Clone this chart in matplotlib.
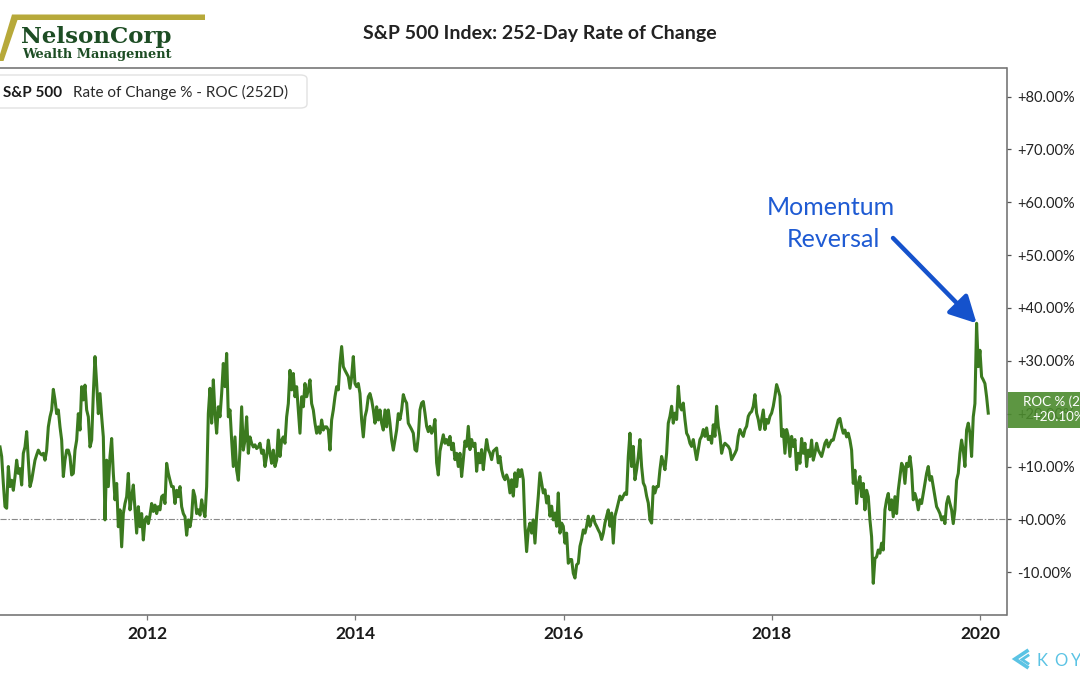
import numpy as np
import pandas as pd
import matplotlib
matplotlib.use('Agg')
import matplotlib.pyplot as plt
from matplotlib.patches import FancyBboxPatch, Rectangle, Polygon
from matplotlib.lines import Line2D

plt.rcParams['font.family'] = ['Lato', 'DejaVu Sans']

# ---------------- data (252-day rate of change, %) ----------------
roc_2010_2012 = [13.7, 11.9, 6.8, 2.4, 2.1, 10.0, 6.2, 7.4, 5.5, 8.1,
                 11.2, 8.7, 9.6, 6.5, 12.5, 13.7, 16.6, 11.2, 6.2, 7.4,
                 9.3, 11.2, 12.2, 13.1, 12.5, 12.2, 12.5, 11.2, 13.1, 17.5,
                 19.4, 20.7, 24.6, 22.6, 20.0, 20.7, 17.5, 15.0, 8.1, 11.2,
                 13.1, 13.1, 11.9, 8.4, 8.7, 13.1, 15.0, 20.0, 16.9, 25.1,
                 22.6, 25.4, 20.7, 19.4, 13.7, 15.0, 23.8, 30.8, 25.7, 20.0,
                 23.8, 19.4, 15.6, -0.1, 11.2, 6.2, 11.9, 15.3, 8.7, 3.7,
                 6.8, -1.4, 1.8, -5.2, 1.1, 3.0, 4.3, 8.7, 1.8, 4.3,
                 6.5, 1.8, -2.6, 2.4, -1.4, 1.1, -3.9, -0.1, 0.5, -0.8,
                 0.8, 3.0, 1.5, 2.7, 1.1, 2.4, 1.8, 4.3, 4.6, 3.0,
                 10.6, 8.7, 7.4, 6.2, 6.2, 3.0, 5.5, 4.3, 6.2, 2.4,
                 1.1, 0.5, -3.0, -0.1, -1.4, 0.5, 5.5, 4.3, 1.1, 1.8,
                 0.8, 3.7, 1.8]
roc_2012_2014 = [0.5, 6.2, 20.0, 24.8, 18.2, 26.4, 20.0, 16.3, 21.3, 19.4,
                 23.8, 29.5, 25.1, 31.4, 19.4, 20.7, 15.0, 10.0, 15.6, 9.3,
                 7.4, 13.1, 21.3, 13.1, 15.0, 19.4, 12.5, 15.6, 14.4, 13.7,
                 14.1, 13.4, 13.7, 14.4, 12.5, 13.1, 10.0, 11.9, 15.0, 12.5,
                 10.6, 13.1, 10.0, 11.2, 16.9, 11.9, 15.0, 15.6, 14.4, 19.4,
                 21.9, 28.2, 24.5, 27.6, 23.2, 25.1, 20.7, 16.3, 23.2, 21.3,
                 25.7, 23.2, 24.5, 26.4, 21.9, 20.7, 18.2, 16.3, 17.5, 16.3,
                 18.8, 16.9, 17.5, 17.5, 16.9, 13.1, 18.8, 20.7, 23.2, 25.1,
                 24.5, 29.5, 32.7, 28.9, 28.2, 27.6, 27.0, 24.8, 27.0, 30.8,
                 25.7, 25.1, 25.7, 23.8, 18.8, 15.6, 19.4, 20.7, 23.2, 23.8,
                 22.6, 20.7, 18.2, 21.3, 18.8, 20.7, 18.2, 16.9, 20.7, 17.5,
                 20.7, 18.2, 15.0, 13.1, 15.0, 16.9, 20.0]
roc_2014_2016 = [18.9, 20.7, 23.6, 22.6, 22.0, 18.2, 17.6, 17.0, 16.3, 13.2,
                 12.9, 15.7, 20.7, 22.0, 22.3, 20.1, 17.6, 16.6, 17.6, 16.3,
                 17.0, 18.9, 10.7, 8.4, 12.9, 14.4, 16.0, 14.4, 15.1, 14.1,
                 15.7, 13.2, 14.4, 11.3, 12.5, 10.0, 12.5, 8.1, 11.3, 14.8,
                 13.8, 17.6, 13.2, 15.1, 13.8, 14.4, 9.1, 12.5, 10.7, 13.2,
                 9.4, 12.5, 15.1, 13.2, 12.5, 11.3, 12.9, 13.2, 13.5, 10.7,
                 11.9, 9.4, 8.1, 7.5, 8.4, 7.5, 5.0, 7.5, 4.4, 8.8,
                 6.2, 9.4, 8.1, 9.4, 7.5, -1.3, -6.1, -2.0, -0.7, -2.6,
                 -0.1, -4.5, 0.6, 4.4, 8.8, 6.9, 5.0, 5.6, 3.1, 4.4,
                 0.6, 2.5, -0.1, 1.2, -1.3, 5.0, -2.6, -0.7, -1.3, -4.5,
                 -2.6, -8.3, -7.6, -7.6, -10.2, -11.1, -8.6, -8.3, -5.1, -3.8,
                 -2.0, -2.6, -1.3, 0.6, -1.3, -0.1, 0.6, -0.7, -1.3, -2.0]
roc_2016_2018 = [-2.6, -3.8, -2.6, -0.7, 0.6, 1.8, -1.3, 1.2, -4.5, 0.6,
                 1.8, 3.1, 4.4, 3.7, 4.4, 5.0, 4.7, 11.9, 16.3, 10.0,
                 13.8, 7.5, 9.4, 11.9, 15.1, 10.0, 6.9, 6.2, 4.4, 3.1,
                 -0.1, -0.7, 6.2, 5.0, 6.2, 6.2, 9.4, 11.9, 10.7, 9.4,
                 12.5, 18.2, 19.5, 21.4, 18.2, 20.1, 18.9, 25.2, 21.4, 20.7,
                 22.0, 18.9, 16.3, 15.7, 14.4, 13.8, 15.1, 13.2, 11.3, 13.2,
                 15.1, 15.7, 17.0, 15.7, 17.3, 15.1, 15.7, 14.4, 17.9, 15.7,
                 21.4, 17.6, 15.7, 12.5, 13.8, 14.4, 14.1, 13.8, 13.2, 11.3,
                 11.9, 12.5, 13.2, 15.7, 17.0, 16.3, 15.7, 17.0, 17.6, 19.5,
                 20.1, 20.4, 21.4, 23.6, 20.1, 18.9, 17.0, 18.9, 20.7, 17.0,
                 18.9, 18.2, 19.5, 20.1, 21.4, 23.3, 25.5, 24.5, 23.3, 15.7,
                 17.0, 12.5, 17.0, 15.7, 11.9, 15.7, 13.8, 15.1, 9.4, 12.5]
roc_2018_2020 = [10.6, 15.3, 12.5, 14.4, 10.0, 13.1, 11.9, 15.0, 11.2, 12.5,
                 14.4, 13.1, 12.5, 11.9, 13.1, 14.4, 15.0, 13.7, 14.4, 15.0,
                 15.0, 16.3, 17.5, 18.8, 19.1, 17.5, 16.3, 16.9, 15.6, 16.3,
                 15.0, 13.1, 6.8, 9.3, 3.0, 6.8, 8.1, 4.3, 6.8, 1.8,
                 5.5, 4.3, -0.1, -3.3, -12.1, -7.4, -7.1, -5.8, -6.4, -4.5,
                 -5.8, 1.8, 3.7, 4.9, 1.8, 3.7, 0.5, 4.3, 1.1, 5.5,
                 8.1, 10.6, 10.0, 6.8, 10.6, 10.0, 11.9, 9.3, 3.7, 4.9,
                 3.7, 1.8, 3.7, 3.0, 4.9, 6.8, 8.7, 10.0, 7.4, 8.1,
                 6.2, 4.3, 2.4, 1.8, 1.1, -0.1, 0.5, -0.8, 3.0, 4.3,
                 3.0, 1.8, -0.8, 1.8, 7.4, 8.7, 12.5, 15.0, 13.1, 10.0,
                 16.9, 18.2, 16.3, 11.9, 19.4, 21.9, 37.1, 28.9, 32.0, 27.0,
                 26.4, 25.7, 23.2, 20.1]

start_date = '2010-08-03'
end_date = '2020-01-30'
ytick_values = [-10, 0, 10, 20, 30, 40, 50, 60, 70, 80]
xtick_years = [2012, 2014, 2016, 2018, 2020]
title = 'S&P 500 Index: 252-Day Rate of Change'
legend_name = 'S&P 500'
legend_desc = 'Rate of Change % - ROC (252D)'
last_label = 'ROC % (252D)'
last_value_text = '+20.10%'
annotation_lines = ['Momentum', 'Reversal']

values = np.array(roc_2010_2012 + roc_2012_2014 + roc_2014_2016 +
                  roc_2016_2018 + roc_2018_2020)
dates = pd.date_range(start_date, end_date, periods=len(values))

# ---------------- figure ----------------
W, H = 1080, 675
fig = plt.figure(figsize=(W / 100, H / 100), dpi=100)
fig.patch.set_facecolor('white')


def fx(px):
    return px / W


def fy(py):
    return 1 - py / H


ax_top, ax_bot, ax_right = 68, 614.5, 1006.5
ax = fig.add_axes([0, fy(ax_bot), fx(ax_right), (ax_bot - ax_top) / H])
ax.plot(dates, values, color='#3b7a1f', lw=2.2, solid_joinstyle='round', zorder=3)
ax.axhline(0, color='#8a8a8a', lw=0.8, ls=(0, (5.5, 1.6, 1.4, 1.6)), zorder=2)

ax.set_xlim(pd.Timestamp('2010-08-03'), pd.Timestamp('2020-04-03'))
ax.set_ylim(-18.0, 85.4)

ax.yaxis.tick_right()
ax.set_yticks(ytick_values)
ax.set_yticklabels([f'{v:+.2f}%' for v in ytick_values])
ax.set_xticks([pd.Timestamp(f'{y}-01-01') for y in xtick_years])
ax.set_xticklabels([str(y) for y in xtick_years])

ax.spines['left'].set_visible(False)
for s in ['top', 'right', 'bottom']:
    ax.spines[s].set_color('#6b6b6b')
    ax.spines[s].set_linewidth(1.1)

ax.tick_params(axis='y', right=True, left=False, length=3, width=0.9,
               color='#555555', pad=4.5, labelsize=10.5, labelcolor='#222222')
ax.tick_params(axis='x', length=3.5, width=0.9, color='#777777', pad=5,
               labelsize=12.5, labelcolor='#1a1a1a')
for lab in ax.get_xticklabels():
    lab.set_fontweight('bold')

# ---------------- title ----------------
fig.text(fx(540), fy(39), title, ha='center', va='baseline', fontsize=14,
         fontweight='bold', color='#222222')

# ---------------- logo ----------------
gold = [(12, 14.5), (205, 14.5), (205, 20), (17.5, 20), (3.5, 61), (-2, 61)]
fig.add_artist(Polygon([(fx(a), fy(b)) for a, b in gold], closed=True,
                       transform=fig.transFigure, facecolor='#b7a93a',
                       edgecolor='none'))
fig.text(fx(21), fy(43.5), 'NelsonCorp', family='DejaVu Serif', weight='bold',
         fontsize=16.5, color='#1d4d24', ha='left', va='baseline')
fig.text(fx(22), fy(58), 'Wealth Management', family='DejaVu Serif',
         weight='bold', fontsize=9.3, color='#1d4d24', ha='left', va='baseline')

# ---------------- legend box ----------------
fig.add_artist(FancyBboxPatch((fx(-12), fy(108)), fx(319), (108 - 75) / H,
                              boxstyle='round,pad=0,rounding_size=0.006',
                              transform=fig.transFigure, facecolor='white',
                              edgecolor='#e2e2e2', lw=1.0, zorder=4))
fig.text(fx(3), fy(97), legend_name, fontsize=11, fontweight='bold',
         color='#1a1a1a', ha='left', va='baseline', zorder=5)
fig.text(fx(73), fy(97), legend_desc, fontsize=11, color='#2a2a2a',
         ha='left', va='baseline', zorder=5)

# ---------------- last value box ----------------
fig.add_artist(Rectangle((fx(1007.5), fy(428)), fx(90), (428 - 392) / H,
                         transform=fig.transFigure, facecolor='#4b8b2d',
                         edgecolor='none', alpha=0.9, zorder=5))
fig.text(fx(1023), fy(406), last_label, fontsize=9.6, color='white',
         ha='left', va='baseline', zorder=6)
fig.text(fx(1032), fy(421), last_value_text, fontsize=9.6, color='white',
         ha='left', va='baseline', zorder=6)

# ---------------- annotation ----------------
blue = '#1f5bd3'
fig.text(fx(831), fy(215), annotation_lines[0], fontsize=18, color=blue,
         ha='center', va='baseline')
fig.text(fx(833), fy(247), annotation_lines[1], fontsize=18, color=blue,
         ha='center', va='baseline')
imax = int(np.argmax(values))
ax.annotate('', xy=(dates[imax], values[imax]), xycoords='data',
            xytext=(fx(893), fy(238)), textcoords='figure fraction',
            arrowprops=dict(arrowstyle='-|>,head_length=0.8,head_width=0.42',
                            mutation_scale=20, lw=3.2, color='#1552cc',
                            shrinkA=0, shrinkB=0),
            annotation_clip=False, zorder=6)

# ---------------- KOYFIN mark ----------------
cyan = '#5bc3e4'
fig.add_artist(Line2D([fx(1027), fx(1015), fx(1027)], [fy(651), fy(659), fy(667)],
                      transform=fig.transFigure, color=cyan, lw=2.6,
                      solid_joinstyle='miter'))
fig.add_artist(Line2D([fx(1028), fx(1022), fx(1028)], [fy(655.5), fy(659.5), fy(663.5)],
                      transform=fig.transFigure, color=cyan, lw=2.0,
                      solid_joinstyle='miter'))
for ch, px in zip('KOY', [1037, 1054, 1071]):
    fig.text(fx(px), fy(665.5), ch, fontsize=12, color=cyan, ha='left',
             va='baseline')

fig.savefig('out.png', dpi=100)
